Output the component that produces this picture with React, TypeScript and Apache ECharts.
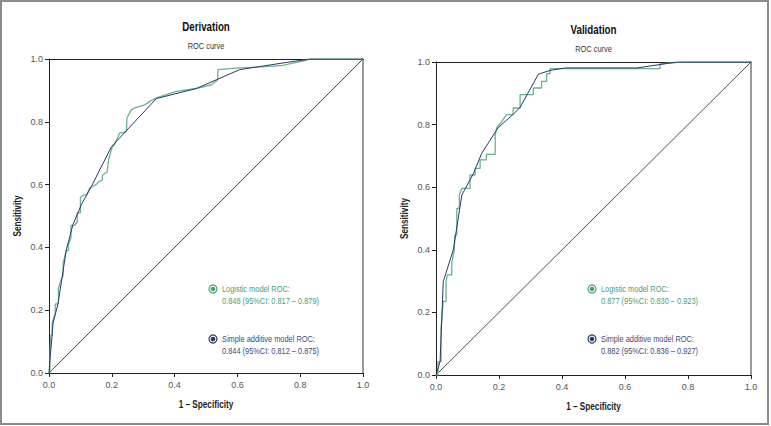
import { useEffect, useRef } from "react";
import * as echarts from "echarts";

const FONT = "'Liberation Sans Narrow', 'Arial Narrow', 'Liberation Sans', Arial, sans-serif";
const NARROW = 0.78;

const tickValues = [0, 0.2, 0.4, 0.6, 0.8, 1.0];
const panelTitles = ["Derivation", "Validation"];
const subTitle = "ROC curve";
const xAxisName = "1 – Specificity";
const yAxisName = "Sensitivity";

// Derivation cohort: logistic model (step ROC) and simple additive model (smooth ROC)
const derivationLogistic: number[][] = [
  [0, 0], [0.003, 0], [0.003, 0.06], [0.006, 0.12], [0.01, 0.12], [0.01, 0.16], [0.02, 0.19],
  [0.02, 0.22], [0.03, 0.22], [0.03, 0.27], [0.04, 0.3], [0.045, 0.31], [0.045, 0.35],
  [0.05, 0.37], [0.055, 0.39], [0.062, 0.39], [0.062, 0.41], [0.07, 0.43], [0.07, 0.47],
  [0.08, 0.47], [0.09, 0.48], [0.09, 0.51], [0.1, 0.51], [0.1, 0.56], [0.11, 0.567],
  [0.12, 0.567], [0.13, 0.59], [0.15, 0.6], [0.16, 0.61], [0.17, 0.615], [0.17, 0.63],
  [0.185, 0.64], [0.19, 0.68], [0.2, 0.716], [0.21, 0.73], [0.225, 0.764], [0.247, 0.769],
  [0.248, 0.812], [0.262, 0.838], [0.273, 0.844], [0.305, 0.854], [0.321, 0.865],
  [0.342, 0.876], [0.406, 0.897], [0.469, 0.906], [0.517, 0.918], [0.537, 0.933],
  [0.538, 0.966], [0.597, 0.971], [0.692, 0.976], [0.745, 0.98], [0.777, 0.987],
  [0.82, 0.996], [0.83, 1.0], [1, 1],
];
const derivationAdditive: number[][] = [
  [0, 0], [0.002, 0.032], [0.0096, 0.116], [0.013, 0.159], [0.029, 0.222], [0.055, 0.392],
  [0.076, 0.472], [0.103, 0.536], [0.135, 0.594], [0.199, 0.721], [0.342, 0.874],
  [0.469, 0.906], [0.607, 0.966], [0.756, 0.989], [0.83, 1.0], [1, 1],
];

// Validation cohort
const validationLogistic: number[][] = [
  [0, 0], [0.006, 0], [0.006, 0.043], [0.016, 0.043], [0.016, 0.15], [0.023, 0.235],
  [0.032, 0.235], [0.032, 0.298], [0.036, 0.32], [0.05, 0.32], [0.05, 0.357], [0.058, 0.4],
  [0.06, 0.447], [0.066, 0.447], [0.066, 0.532], [0.074, 0.532], [0.074, 0.575],
  [0.082, 0.596], [0.108, 0.596], [0.108, 0.639], [0.124, 0.639], [0.124, 0.66],
  [0.14, 0.66], [0.14, 0.687], [0.16, 0.687], [0.16, 0.705], [0.188, 0.705], [0.188, 0.766],
  [0.193, 0.79], [0.208, 0.809], [0.224, 0.832], [0.245, 0.832], [0.245, 0.853],
  [0.267, 0.853], [0.267, 0.896], [0.309, 0.896], [0.309, 0.917], [0.335, 0.917],
  [0.335, 0.938], [0.351, 0.938], [0.351, 0.963], [0.362, 0.963], [0.362, 0.979],
  [0.711, 0.979], [0.711, 0.994], [0.78, 1.0], [1, 1],
];
const validationAdditive: number[][] = [
  [0, 0], [0.013, 0.043], [0.023, 0.298], [0.055, 0.4], [0.082, 0.575], [0.119, 0.644],
  [0.145, 0.708], [0.197, 0.79], [0.245, 0.833], [0.267, 0.855], [0.325, 0.961],
  [0.362, 0.973], [0.41, 0.981], [0.638, 0.981], [0.765, 1.0], [1, 1],
];

const referenceLine: number[][] = [[0, 0], [1, 1]];

const derivationLegend = [
  "Logistic model ROC:", "0.848 (95%CI: 0.817 – 0.879)",
  "Simple additive model ROC:", "0.844 (95%CI: 0.812 – 0.875)",
];
const validationLegend = [
  "Logistic model ROC:", "0.877 (95%CI: 0.830 – 0.923)",
  "Simple additive model ROC:", "0.882 (95%CI: 0.836 – 0.927)",
];

const GREEN_LINE = "#68b292";
const GREEN_TEXT = "#45a073";
const NAVY = "#2a3a68";
const NAVY_TEXT = "#3b4a78";

const panels = [
  { grid: { left: 49, top: 59, width: 314, height: 314 }, titleY: 27, subY: 46, logistic: derivationLogistic, additive: derivationAdditive, legend: derivationLegend, legendX: 213, legendY: [289, 339] },
  { grid: { left: 436, top: 62, width: 315, height: 313 }, titleY: 29.5, subY: 49, logistic: validationLogistic, additive: validationAdditive, legend: validationLegend, legendX: 592, legendY: [289, 339] },
];

function txt(text: string, x: number, y: number, size: number, color: string, weight: string, align: string, vertical = false) {
  return {
    type: "text",
    x,
    y,
    rotation: vertical ? Math.PI / 2 : 0,
    scaleX: NARROW,
    silent: true,
    style: {
      text,
      fill: color,
      font: `${weight} ${size}px ${FONT}`,
      fontFamily: FONT,
      fontSize: size,
      fontWeight: weight,
      align,
      textAlign: align,
      verticalAlign: "middle",
      textVerticalAlign: "middle",
    },
  };
}

function legendMark(cx: number, cy: number, color: string) {
  return [
    { type: "circle", shape: { cx, cy, r: 4 }, style: { fill: "#fff", stroke: color, lineWidth: 1.2 }, silent: true },
    { type: "circle", shape: { cx, cy, r: 2.3 }, style: { fill: color }, silent: true },
  ];
}

export default function App() {
  const ref = useRef<HTMLDivElement>(null);
  useEffect(() => {
    document.body.style.margin = "0";
    if (!ref.current) return;
    const chart = echarts.init(ref.current, undefined, { renderer: "svg" });

    const xAxes: any[] = [];
    const yAxes: any[] = [];
    const series: any[] = [];
    const graphics: any[] = [
      { type: "rect", shape: { x: 1, y: 1, width: 767, height: 423 }, style: { fill: "none", stroke: "#8c8c8c", lineWidth: 2 }, silent: true, z: -1 },
    ];

    panels.forEach((p, i) => {
      const cx = p.grid.left + p.grid.width / 2;
      const cy = p.grid.top + p.grid.height / 2;
      const bottom = p.grid.top + p.grid.height;
      xAxes.push({
        type: "value", gridIndex: i, min: 0, max: 1, interval: 0.2, position: "bottom",
        axisLine: { show: true, onZero: false, lineStyle: { color: "#222", width: 1 } },
        axisTick: { show: true, length: 4, lineStyle: { color: "#222" } },
        axisLabel: { formatter: (v: number) => (tickValues.includes(v) ? v.toFixed(1) : ""), color: "#555", fontSize: 9, margin: 7, fontFamily: FONT },
        splitLine: { show: false },
      });
      xAxes.push({
        type: "value", gridIndex: i, min: 0, max: 1, interval: 0.2, position: "top",
        axisLine: { show: true, onZero: false, lineStyle: { color: "#222", width: 1 } },
        axisTick: { show: false }, axisLabel: { show: false }, splitLine: { show: false },
      });
      yAxes.push({
        type: "value", gridIndex: i, min: 0, max: 1, interval: 0.2, position: "left",
        axisLine: { show: true, onZero: false, lineStyle: { color: "#222", width: 1 } },
        axisTick: { show: true, length: 4, lineStyle: { color: "#222" } },
        axisLabel: { formatter: (v: number) => (tickValues.includes(v) ? v.toFixed(1) : ""), color: "#555", fontSize: 9, margin: 6, fontFamily: FONT },
        splitLine: { show: false },
      });
      yAxes.push({
        type: "value", gridIndex: i, min: 0, max: 1, interval: 0.2, position: "right",
        axisLine: { show: true, onZero: false, lineStyle: { color: "#9a9a9a", width: 2 } },
        axisTick: { show: false }, axisLabel: { show: false }, splitLine: { show: false },
      });

      const xi = i * 2;
      const yi = i * 2;
      series.push({
        type: "line", name: `ref${i}`, xAxisIndex: xi, yAxisIndex: yi, data: referenceLine,
        symbol: "none", showSymbol: false, lineStyle: { color: "#222", width: 0.8 }, z: 1, silent: true,
      });
      series.push({
        type: "line", name: `Logistic model ROC ${i}`, xAxisIndex: xi, yAxisIndex: yi, data: p.logistic,
        symbol: "none", showSymbol: false, lineStyle: { color: GREEN_LINE, width: 1.3 }, z: 2, silent: true,
      });
      series.push({
        type: "line", name: `Simple additive model ROC ${i}`, xAxisIndex: xi, yAxisIndex: yi, data: p.additive,
        symbol: "none", showSymbol: false, lineStyle: { color: NAVY, width: 1 }, z: 3, silent: true,
      });

      graphics.push(txt(panelTitles[i], cx, p.titleY, 12.5, "#111", "bold", "center"));
      graphics.push(txt(subTitle, cx, p.subY, 9.5, "#333", "normal", "center"));
      graphics.push(txt(xAxisName, cx, bottom + 31, 10.5, "#222", "bold", "center"));
      graphics.push(txt(yAxisName, p.grid.left - 32, cy, 10.5, "#222", "bold", "center", true));
      graphics.push(...legendMark(p.legendX, p.legendY[0], GREEN_TEXT));
      graphics.push(txt(p.legend[0], p.legendX + 9, p.legendY[0], 9.5, GREEN_TEXT, "normal", "left"));
      graphics.push(txt(p.legend[1], p.legendX + 9, p.legendY[0] + 11.7, 9.5, GREEN_TEXT, "normal", "left"));
      graphics.push(...legendMark(p.legendX, p.legendY[1], NAVY));
      graphics.push(txt(p.legend[2], p.legendX + 9, p.legendY[1], 9.5, NAVY_TEXT, "normal", "left"));
      graphics.push(txt(p.legend[3], p.legendX + 9, p.legendY[1] + 11.7, 9.5, NAVY_TEXT, "normal", "left"));
    });

    chart.setOption({
      animation: false,
      backgroundColor: "#fff",
      textStyle: { fontFamily: FONT },
      grid: panels.map((p) => ({ ...p.grid, containLabel: false })),
      xAxis: xAxes,
      yAxis: yAxes,
      series,
      graphic: graphics,
    });
    return () => chart.dispose();
  }, []);
  return <div ref={ref} style={{ width: 771, height: 426 }} />;
}
